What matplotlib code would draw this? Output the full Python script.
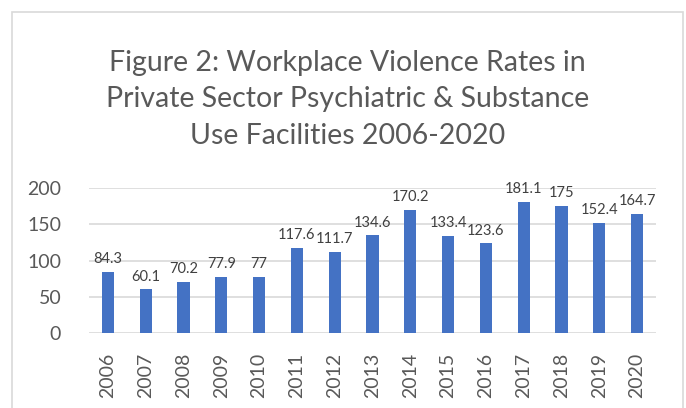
import matplotlib.pyplot as plt
from matplotlib.patches import Rectangle

years = ['2006', '2007', '2008', '2009', '2010', '2011', '2012', '2013',
         '2014', '2015', '2016', '2017', '2018', '2019', '2020']
rates = [84.3, 60.1, 70.2, 77.9, 77, 117.6, 111.7, 134.6,
         170.2, 133.4, 123.6, 181.1, 175, 152.4, 164.7]
yticks = [0, 50, 100, 150, 200]

plt.rcParams['font.family'] = ['Lato', 'DejaVu Sans']
grey = '#595959'

fig = plt.figure(figsize=(6.86, 4.08), dpi=100)
# chart area border like Excel
fig.patches.append(Rectangle((12 / 686, -0.1), (683 - 12) / 686, 1.1 - 12 / 408,
                             transform=fig.transFigure, fill=False,
                             edgecolor='#d9d9d9', linewidth=1.2))

ax = fig.add_axes([89 / 686, 1 - 333 / 408, (656 - 89) / 686, 145 / 408])
x = range(len(years))
bars = ax.bar(x, rates, width=0.32, color='#4472c4', zorder=3)
for xi, v in zip(x, rates):
    ax.text(xi, v + 8, f'{v:g}', ha='center', va='bottom', fontsize=10.5, color='#404040')

ax.set_xlim(-0.5, len(years) - 0.5)
ax.set_ylim(0, 200)
ax.set_yticks(yticks)
ax.set_yticklabels([str(t) for t in yticks], fontsize=14, color=grey)
ax.set_xticks(list(x))
ax.set_xticklabels(years, rotation=90, fontsize=14, color=grey)
ax.tick_params(axis='y', length=0, pad=20)
ax.tick_params(axis='x', length=0, pad=14)
ax.yaxis.grid(True, color='#d9d9d9', linewidth=1.2, zorder=0)
for s in ax.spines.values():
    s.set_visible(False)

fig.text(0.507, 1 - 99 / 408,
         'Figure 2: Workplace Violence Rates in\nPrivate Sector Psychiatric & Substance\nUse Facilities 2006-2020',
         ha='center', va='center', fontsize=20.5, color=grey, linespacing=1.5)

fig.savefig('out.png', dpi=100)
